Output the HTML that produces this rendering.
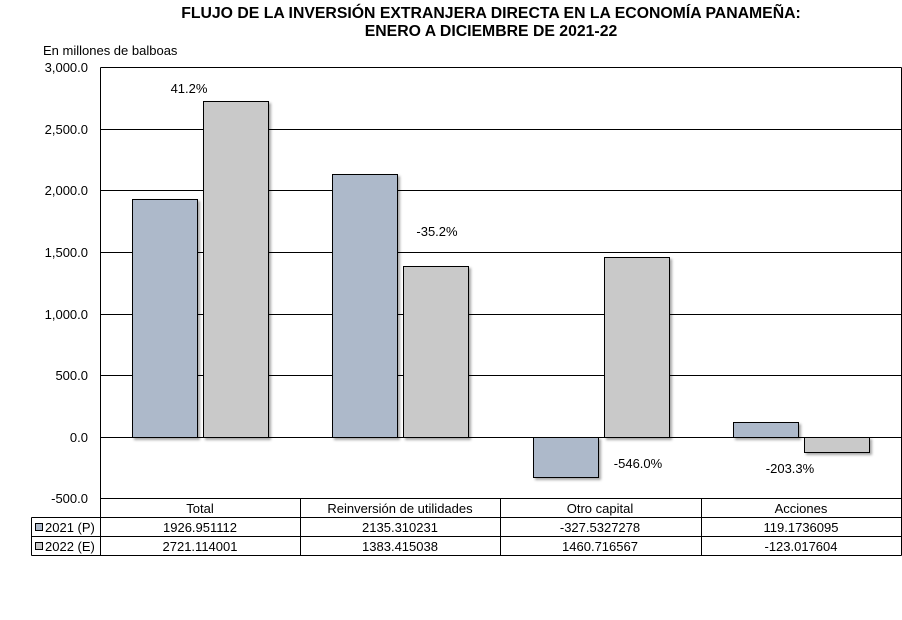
<!DOCTYPE html>
<html><head><meta charset="utf-8"><style>
body{margin:0;background:#fff;}
svg text{font-family:"Liberation Sans",Arial,sans-serif;fill:#000;}
</style></head><body>
<svg width="902" height="615" xmlns="http://www.w3.org/2000/svg">
<defs><filter id="s" x="-10%" y="-10%" width="130%" height="130%"><feDropShadow dx="2" dy="2" stdDeviation="1.2" flood-color="#000" flood-opacity="0.35"/></filter></defs>
<text x="491" y="18" font-size="15.8" font-weight="bold" text-anchor="middle">FLUJO DE LA INVERSIÓN EXTRANJERA DIRECTA EN LA ECONOMÍA PANAMEÑA:</text>
<text x="491" y="36" font-size="15.8" font-weight="bold" text-anchor="middle">ENERO A DICIEMBRE DE 2021-22</text>
<text x="43" y="55" font-size="13">En millones de balboas</text>
<g stroke="#000" stroke-width="1">
<line x1="100.5" y1="67.5" x2="901.5" y2="67.5"/>
<line x1="100.5" y1="129.5" x2="901.5" y2="129.5"/>
<line x1="100.5" y1="190.5" x2="901.5" y2="190.5"/>
<line x1="100.5" y1="252.5" x2="901.5" y2="252.5"/>
<line x1="100.5" y1="314.5" x2="901.5" y2="314.5"/>
<line x1="100.5" y1="375.5" x2="901.5" y2="375.5"/>
<line x1="100.5" y1="437.5" x2="901.5" y2="437.5"/>
<line x1="100.5" y1="67.5" x2="100.5" y2="555.5"/>
<line x1="901.5" y1="67.5" x2="901.5" y2="555.5"/>
</g>
<g font-size="13" text-anchor="end">
<text x="88" y="72">3,000.0</text><text x="88" y="134">2,500.0</text><text x="88" y="195">2,000.0</text><text x="88" y="257">1,500.0</text><text x="88" y="319">1,000.0</text><text x="88" y="380">500.0</text><text x="88" y="442">0.0</text><text x="88" y="503">-500.0</text>
</g>
<g stroke="#000" stroke-width="1" filter="url(#s)">
<rect x="132.5" y="199.5" width="65" height="238" fill="#adb9ca"/>
<rect x="203.5" y="101.5" width="65" height="336" fill="#c9c9c9"/>
<rect x="332.5" y="174.5" width="65" height="263" fill="#adb9ca"/>
<rect x="403.5" y="266.5" width="65" height="171" fill="#c9c9c9"/>
<rect x="533.5" y="437.5" width="65" height="40" fill="#adb9ca"/>
<rect x="604.5" y="257.5" width="65" height="180" fill="#c9c9c9"/>
<rect x="733.5" y="422.5" width="65" height="15" fill="#adb9ca"/>
<rect x="804.5" y="437.5" width="65" height="15" fill="#c9c9c9"/>
</g>
<g font-size="13" text-anchor="middle">
<text x="189" y="93">41.2%</text><text x="437" y="236">-35.2%</text><text x="638" y="468">-546.0%</text><text x="790" y="473">-203.3%</text>
</g>
<g stroke="#000" stroke-width="1">
<line x1="100.5" y1="498.5" x2="901.5" y2="498.5"/>
<line x1="31.5" y1="517.5" x2="901.5" y2="517.5"/>
<line x1="31.5" y1="536.5" x2="901.5" y2="536.5"/>
<line x1="31.5" y1="555.5" x2="901.5" y2="555.5"/>
<line x1="31.5" y1="517.5" x2="31.5" y2="555.5"/>
<line x1="300.5" y1="498.5" x2="300.5" y2="555.5"/>
<line x1="500.5" y1="498.5" x2="500.5" y2="555.5"/>
<line x1="701.5" y1="498.5" x2="701.5" y2="555.5"/>
<rect x="35.5" y="523.5" width="7" height="7" fill="#adb9ca"/>
<rect x="35.5" y="542.5" width="7" height="7" fill="#c9c9c9"/>
</g>
<g font-size="13" text-anchor="middle">
<text x="200" y="513">Total</text><text x="400" y="513">Reinversión de utilidades</text><text x="600" y="513">Otro capital</text><text x="801" y="513">Acciones</text>
<text x="200" y="532">1926.951112</text><text x="400" y="532">2135.310231</text><text x="600" y="532">-327.5327278</text><text x="801" y="532">119.1736095</text>
<text x="200" y="551">2721.114001</text><text x="400" y="551">1383.415038</text><text x="600" y="551">1460.716567</text><text x="801" y="551">-123.017604</text>
</g>
<text x="45" y="532" font-size="13">2021 (P)</text>
<text x="45" y="551" font-size="13">2022 (E)</text>
</svg>
</body></html>
